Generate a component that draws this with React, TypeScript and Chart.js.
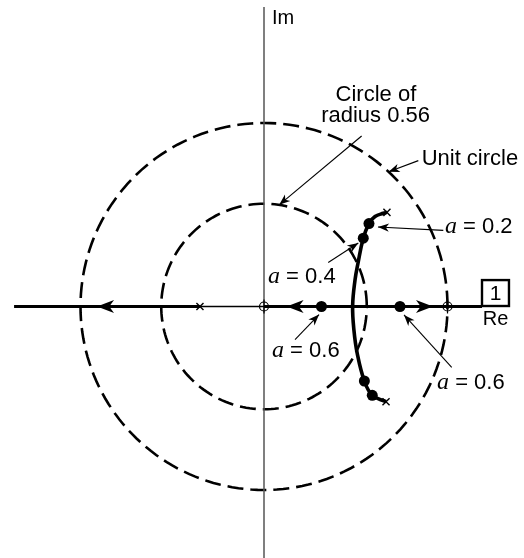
import React, { useEffect, useRef } from "react";
import { Chart, registerables } from "chart.js";

Chart.register(...registerables);

const WIDTH = 524;
const HEIGHT = 558;

// visible window of the z-plane (Re, Im)
const reRange = [-1.4387, 1.4169];
const imRange = [-1.3706, 1.6703];

// dashed reference circles (radius in z-plane units)
const circleRadii = [1, 0.56];

// real axis: pieces that are part of the locus (thick) and the plain piece (thin)
const locusRealSegments = [
  [-1.362, -0.349],
  [0, 1.188],
];
const plainRealSegments = [[-0.349, 0]];
const imAxisSpan = [-1.4, 1.632];

// open-loop poles (x) and zeros (o)
const poleRe = [0.67, 0.665, -0.349];
const poleIm = [0.513, -0.519, 0];
const zeroRe = [0, 1];
const zeroIm = [0, 0];

// complex branch of the locus: upper pole -> real axis -> lower pole
const branchRe = [0.67, 0.65, 0.605, 0.572, 0.541, 0.512, 0.496, 0.483, 0.49, 0.508, 0.547, 0.59, 0.665];
const branchIm = [0.513, 0.508, 0.49, 0.452, 0.372, 0.235, 0.144, 0.004, -0.128, -0.255, -0.406, -0.484, -0.519];

// closed-loop roots marked for selected values of a
const rootRe = [0.572, 0.541, 0.547, 0.59, 0.313, 0.741];
const rootIm = [0.452, 0.372, -0.406, -0.484, 0, 0];

// direction of travel along the real-axis branches
const flowTipRe = [-0.91, 0.123, 0.921];
const flowSense = [-1, -1, 1];

// labels for the marked roots: value of a, text anchor, pointer start and tip
const gainValues = ["0.2", "0.4", "0.6", "0.6"];
const gainTextRe = [0.986, 0.0218, 0.0436, 0.943];
const gainTextIm = [0.4005, 0.128, -0.275, -0.45];
const gainFromRe = [0.977, 0.35, 0.169, 1.023];
const gainFromIm = [0.415, 0.24, -0.18, -0.332];
const gainToRe = [0.621, 0.514, 0.3, 0.763];
const gainToIm = [0.433, 0.346, -0.044, -0.046];

// circle call-outs: pointer start and the angle (deg) where it meets its circle
const circleNoteFromRe = [0.841, 0.532];
const circleNoteFromIm = [0.795, 0.929];
const circleNoteAngle = [47.2, 81.5];

const SANS = '"Liberation Sans", Arial, Helvetica, sans-serif';
const SERIF = '"Liberation Serif", "Times New Roman", serif';

const pts = (xs: number[], ys: number[]) => xs.map((v, i) => ({ x: v, y: ys[i] }));

const circlePoints = (r: number) => {
  const out: { x: number; y: number }[] = [];
  for (let d = 0; d <= 360; d += 2) {
    const t = (d * Math.PI) / 180;
    out.push({ x: r * Math.cos(t), y: r * Math.sin(t) });
  }
  return out;
};

function arrowHead(
  ctx: CanvasRenderingContext2D,
  tx: number,
  ty: number,
  dx: number,
  dy: number,
  len: number,
  half: number
) {
  const m = Math.hypot(dx, dy) || 1;
  const ux = dx / m;
  const uy = dy / m;
  const nx = -uy;
  const ny = ux;
  ctx.beginPath();
  ctx.moveTo(tx, ty);
  ctx.lineTo(tx - len * ux + half * nx, ty - len * uy + half * ny);
  ctx.lineTo(tx - 0.72 * len * ux, ty - 0.72 * len * uy);
  ctx.lineTo(tx - len * ux - half * nx, ty - len * uy - half * ny);
  ctx.closePath();
  ctx.fill();
}

const overlay = {
  id: "overlay",
  afterDatasetsDraw(chart: any) {
    const ctx: CanvasRenderingContext2D = chart.ctx;
    const sx = chart.scales.x;
    const sy = chart.scales.y;
    const px = (v: number) => sx.getPixelForValue(v);
    const py = (v: number) => sy.getPixelForValue(v);

    ctx.save();
    ctx.fillStyle = "#000";
    ctx.strokeStyle = "#000";

    // flow arrows on the real axis
    flowTipRe.forEach((re, i) => {
      arrowHead(ctx, px(re), py(0), flowSense[i], 0, 17, 6.5);
    });

    // pointer lines
    const pointer = (fx: number, fy: number, tx: number, ty: number) => {
      const x0 = px(fx);
      const y0 = py(fy);
      const x1 = px(tx);
      const y1 = py(ty);
      ctx.lineWidth = 1.1;
      ctx.beginPath();
      ctx.moveTo(x0, y0);
      ctx.lineTo(x1, y1);
      ctx.stroke();
      arrowHead(ctx, x1, y1, x1 - x0, y1 - y0, 11, 4.2);
    };
    circleRadii.forEach((r, i) => {
      const t = (circleNoteAngle[i] * Math.PI) / 180;
      pointer(circleNoteFromRe[i], circleNoteFromIm[i], r * Math.cos(t), r * Math.sin(t));
    });
    gainValues.forEach((_, i) => {
      pointer(gainFromRe[i], gainFromIm[i], gainToRe[i], gainToIm[i]);
    });

    // texts
    ctx.textBaseline = "alphabetic";
    ctx.font = `20px ${SANS}`;
    ctx.textAlign = "left";
    ctx.fillText("Im", px(0.0436), py(1.539));

    ctx.font = `22px ${SANS}`;
    ctx.textAlign = "center";
    ctx.fillText("Circle of", px(0.61), py(1.12));
    ctx.fillText(`radius ${circleRadii[1].toFixed(2)}`, px(0.608), py(1.003));
    ctx.textAlign = "left";
    ctx.fillText("Unit circle", px(0.859), py(0.771));

    gainValues.forEach((v, i) => {
      const x0 = px(gainTextRe[i]);
      const y0 = py(gainTextIm[i]);
      ctx.font = `italic 24px ${SERIF}`;
      ctx.fillText("a", x0, y0);
      const w = ctx.measureText("a").width;
      ctx.font = `22px ${SANS}`;
      ctx.fillText(` = ${v}`, x0 + w, y0);
    });

    // boxed "1" marking the unit point, with the Re axis name beneath
    const bx0 = px(1.188);
    const bx1 = px(1.335);
    const by0 = py(0.144);
    const by1 = py(0.0027);
    ctx.lineWidth = 2.4;
    ctx.strokeRect(bx0, by0, bx1 - bx0, by1 - by0);
    ctx.textAlign = "center";
    ctx.textBaseline = "middle";
    ctx.font = `21px ${SANS}`;
    ctx.fillText("1", (bx0 + bx1) / 2, (by0 + by1) / 2 + 1);
    ctx.textBaseline = "alphabetic";
    ctx.font = `20px ${SANS}`;
    ctx.fillText("Re", px(1.262), py(-0.1035));

    ctx.restore();
  },
};

export default function App() {
  const ref = useRef<HTMLCanvasElement | null>(null);

  useEffect(() => {
    document.body.style.margin = "0";
    const canvas = ref.current;
    if (!canvas) return;

    const seg = (a: number[]) => [
      { x: a[0], y: 0 },
      { x: a[1], y: 0 },
    ];

    const datasets: any[] = [];

    circleRadii.forEach((r) => {
      datasets.push({
        type: "line",
        data: circlePoints(r),
        borderColor: "#000",
        borderWidth: 2.6,
        borderDash: [16, 7],
        pointRadius: 0,
        tension: 0,
        order: 10,
      });
    });

    datasets.push({
      type: "line",
      data: [
        { x: 0, y: imAxisSpan[1] },
        { x: 0, y: imAxisSpan[0] },
      ],
      borderColor: "#555",
      borderWidth: 1.5,
      pointRadius: 0,
      order: 9,
    });

    plainRealSegments.forEach((s) => {
      datasets.push({
        type: "line",
        data: seg(s),
        borderColor: "#000",
        borderWidth: 1.4,
        pointRadius: 0,
        order: 8,
      });
    });

    locusRealSegments.forEach((s) => {
      datasets.push({
        type: "line",
        data: seg(s),
        borderColor: "#000",
        borderWidth: 2.8,
        pointRadius: 0,
        order: 7,
      });
    });

    datasets.push({
      type: "line",
      data: pts(branchRe, branchIm),
      borderColor: "#000",
      borderWidth: 3.6,
      pointRadius: 0,
      tension: 0.4,
      order: 6,
    });

    datasets.push({
      type: "scatter",
      data: pts(poleRe, poleIm),
      pointStyle: "crossRot",
      pointRadius: 5,
      borderColor: "#000",
      borderWidth: 1.4,
      order: 5,
    });

    datasets.push({
      type: "scatter",
      data: pts(zeroRe, zeroIm),
      pointStyle: "circle",
      pointRadius: 4.5,
      backgroundColor: "rgba(0,0,0,0)",
      borderColor: "#000",
      borderWidth: 1.2,
      order: 4,
    });

    datasets.push({
      type: "scatter",
      data: pts(zeroRe, zeroIm),
      pointStyle: "line",
      rotation: 90,
      pointRadius: 7,
      borderColor: "#000",
      borderWidth: 1.2,
      order: 4,
    });

    datasets.push({
      type: "scatter",
      data: pts(rootRe, rootIm),
      pointStyle: "circle",
      pointRadius: 5.5,
      backgroundColor: "#000",
      borderColor: "#000",
      borderWidth: 0,
      order: 3,
    });

    const chart = new Chart(canvas, {
      type: "scatter",
      data: { datasets },
      options: {
        responsive: false,
        animation: false,
        devicePixelRatio: 1,
        events: [],
        layout: { padding: 0, autoPadding: false },
        plugins: {
          legend: { display: false },
          tooltip: { enabled: false },
        },
        scales: {
          x: { type: "linear", min: reRange[0], max: reRange[1], display: false },
          y: { type: "linear", min: imRange[0], max: imRange[1], display: false },
        },
      },
      plugins: [overlay],
    });

    return () => chart.destroy();
  }, []);

  return (
    <div style={{ width: WIDTH, height: HEIGHT, background: "#fff" }}>
      <canvas ref={ref} width={WIDTH} height={HEIGHT} style={{ width: WIDTH, height: HEIGHT, display: "block" }} />
    </div>
  );
}
